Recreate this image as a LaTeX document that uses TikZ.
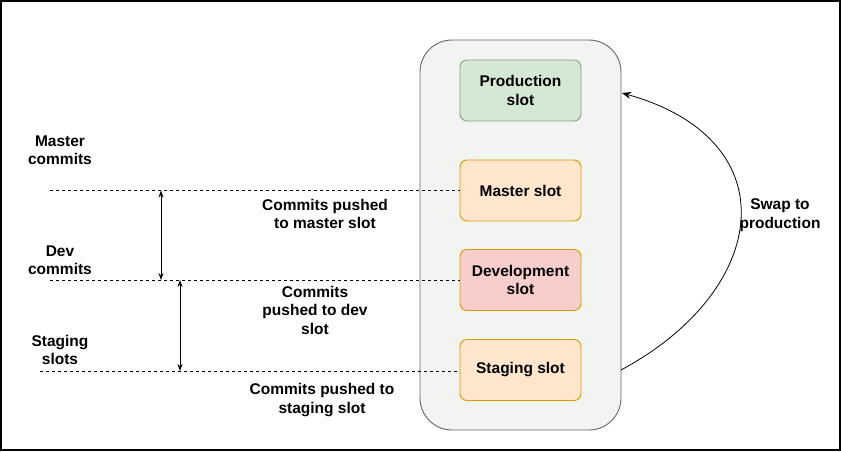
\documentclass[tikz,border=0pt]{standalone}
\usepackage{fontspec}
\setmainfont{Liberation Sans}
\usetikzlibrary{arrows.meta}

\definecolor{boxgray}{HTML}{F1F4F0}
\definecolor{prodfill}{HTML}{D5E8D4}
\definecolor{prodline}{HTML}{8E9A8C}
\definecolor{orangefill}{HTML}{FFE6CC}
\definecolor{redfill}{HTML}{F8CECC}
\definecolor{orangeline}{HTML}{D79B00}

\tikzset{
    slot/.style={draw, rounded corners=7pt, minimum width=121pt, minimum height=61pt,
        align=center, line width=0.9pt},
    lbl/.style={align=center, inner sep=1pt},
    guide/.style={dashed, dash pattern=on 3pt off 3pt, line width=0.9pt},
    span/.style={{Stealth[length=7pt,width=5pt]}-{Stealth[length=7pt,width=5pt]}, line width=0.9pt}
}

\begin{document}
\begin{tikzpicture}[x=1pt, y=-1pt, font=\fontsize{15.5}{18.5}\selectfont\bfseries]

        \useasboundingbox (0, 0) rectangle (841, 451);
        \draw[line width=2pt] (1, 1) rectangle (840, 450);

        % slots
        \node (app) at (520.5, 235) [draw=black!60, fill=boxgray, rounded corners=32pt,
            minimum width=201pt, minimum height=390pt, line width=0.9pt] {};

        \node (prod) at (520.5, 90.5) [slot, fill=prodfill, draw=prodline] {Production\\slot};
        \node (master) at (520.5, 190.5) [slot, fill=orangefill, draw=orangeline] {Master slot};
        \node (dev) at (520.5, 280) [slot, fill=redfill, draw=orangeline] {Development\\slot};
        \node (staging) at (520.5, 370) [slot, fill=orangefill, draw=orangeline] {Staging slot};

        % left side
        \node (mc) at (60, 150) [lbl] {Master\\commits};
        \node (dc) at (60, 260) [lbl] {Dev\\commits};
        \node (sc) at (60, 350) [lbl] {Staging\\slots};

        \node (pm) at (325, 214) [lbl] {Commits pushed\\to master slot};
        \node (pd) at (315, 310) [lbl] {Commits\\pushed to dev\\slot};
        \node (ps) at (322, 400) [lbl] {Commits pushed to\\staging slot};

        \coordinate (m-0) at (50, 190.5);
        \coordinate (d-0) at (50, 280);
        \coordinate (s-0) at (40, 371);

        \coordinate (m-1) at (161, 190.5);
        \coordinate (d-1) at (161, 280);
        \coordinate (d-2) at (180, 280);
        \coordinate (s-2) at (180, 371);

        \draw[guide] (m-0) -- (master);
        \draw[guide] (d-0) -- (dev);
        \draw[guide] (s-0) -- (staging.west |- s-0);

        \draw[span] (m-1) -- (d-1);
        \draw[span] (d-2) -- (s-2);

        % swap
        \coordinate (bottom) at (621, 370);
        \coordinate (top) at (622, 93);
        \draw[-{Stealth[length=9pt,width=7pt]}, line width=0.8pt] (bottom) .. controls (770, 290) and (790, 140) .. (top);
        \node (swap) at (780, 215) [lbl] {Swap to\\production};

    \end{tikzpicture}
\end{document}
